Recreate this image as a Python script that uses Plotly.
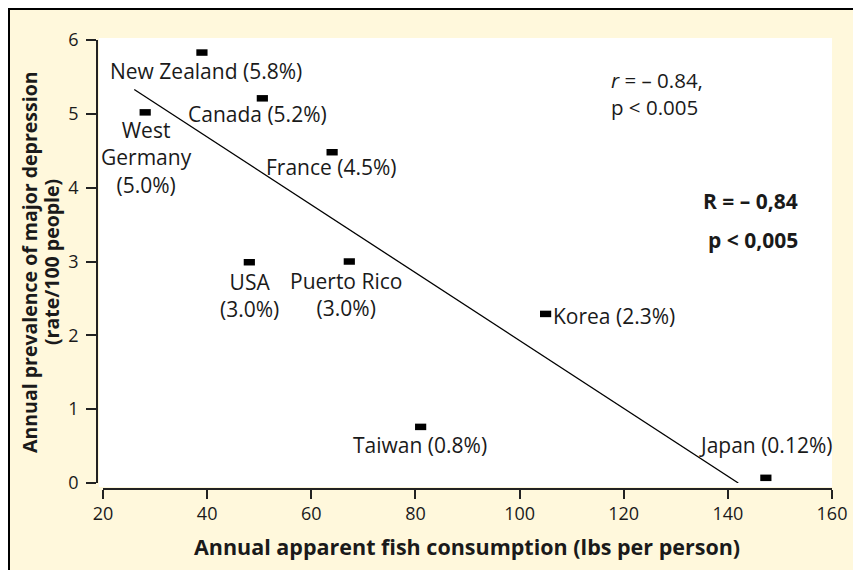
import plotly.graph_objects as go

# ---- data ----
countries = ["New Zealand", "Canada", "West Germany", "France", "USA",
             "Puerto Rico", "Korea", "Taiwan", "Japan"]
fish = [39.0, 50.6, 28.1, 64.0, 48.1, 67.3, 105.0, 81.0, 147.3]
depression = [5.83, 5.21, 5.02, 4.48, 2.99, 3.0, 2.29, 0.76, 0.07]
labels = ["New Zealand (5.8%)", "Canada (5.2%)", "West<br>Germany<br>(5.0%)",
          "France (4.5%)", "USA<br>(3.0%)", "Puerto Rico<br>(3.0%)",
          "Korea (2.3%)", "Taiwan (0.8%)", "Japan (0.12%)"]
fit_x = [26.0, 142.0]
fit_y = [5.33, 0.0]
x_ticks = [20, 40, 60, 80, 100, 120, 140, 160]
y_ticks = [0, 1, 2, 3, 4, 5, 6]

# ---- layout geometry (pixels); page body adds an 8px offset ----
OFF = 8
W, H = 861 - OFF, 570 - OFF
L, R, T, B = 89, 29, 32, 81
PW, PH = W - L - R, H - T - B


def px(xr):
    """reference-window x pixel -> paper fraction"""
    return (xr - OFF - L) / PW


def py(yr):
    """reference-window y pixel -> paper fraction"""
    return (H - B - (yr - OFF)) / PH


FONT = "Open Sans"
TXT = "#1a1a1a"
LBL = 21

# label offsets relative to each point (dx, dy in px, anchor)
label_pos = {
    "New Zealand": (4, -18, "center"),
    "Canada": (-5, -16, "center"),
    "West Germany": (1, -45, "center"),
    "France": (-1, -15, "center"),
    "USA": (0, -33, "center"),
    "Puerto Rico": (-3, -33, "center"),
    "Korea": (5, -2, "left"),
    "Taiwan": (-1, -18, "center"),
    "Japan": (0, 33, "center"),
}

fig = go.Figure()
fig.add_trace(go.Scatter(x=fit_x, y=fit_y, mode="lines",
                         line=dict(color="black", width=1.3),
                         hoverinfo="skip", showlegend=False))
fig.add_trace(go.Scatter(x=fish, y=depression, mode="markers",
                         marker=dict(symbol="line-ew", size=8,
                                     line=dict(color="black", width=6.5)),
                         text=countries, showlegend=False))

annotations = []
for c, xv, yv, lab in zip(countries, fish, depression, labels):
    dx, dy, anc = label_pos[c]
    annotations.append(dict(x=xv, y=yv, xref="x", yref="y", text=lab,
                            showarrow=False, xanchor=anc, yanchor="middle",
                            xshift=dx, yshift=dy, align="center",
                            font=dict(family=FONT, size=LBL, color=TXT)))


def note(x, y, text, size, anchor="left", angle=0, align="center"):
    return dict(x=px(x), y=py(y), xref="paper", yref="paper", text=text,
                showarrow=False, xanchor=anchor, yanchor="middle",
                textangle=angle, align=align,
                font=dict(family=FONT, size=size, color=TXT))


annotations += [
    note(609, 93, "<i>r</i> = – 0.84,<br>p < 0.005", 20.5, align="left"),
    note(800, 201, "<b>R = – 0,84</b>", 21, "right"),
    note(800, 240, "<b>p < 0,005</b>", 21, "right"),
    note(467, 546, "<b>Annual apparent fish consumption (lbs per person)</b>",
         21.5, "center"),
    note(29, 262, "<b>Annual prevalence of major depression</b>", 19.5,
         "center", -90),
    note(51, 262, "<b>(rate/100 people)</b>", 19.5, "center", -90),
]

shapes = [
    # white plotting panel
    dict(type="rect", xref="paper", yref="paper", layer="below",
         x0=px(99), x1=px(832), y0=py(487), y1=py(38),
         fillcolor="white", line=dict(width=0)),
    # frame (top + left visible)
    dict(type="rect", xref="paper", yref="paper", layer="above",
         x0=px(OFF + 1), x1=px(900), y0=py(620), y1=py(OFF + 1),
         fillcolor="rgba(0,0,0,0)", line=dict(color="black", width=2)),
]

fig.update_layout(
    width=W, height=H,
    margin=dict(l=L, r=R, t=T, b=B, pad=0),
    paper_bgcolor="#FFF8DC", plot_bgcolor="white",
    font=dict(family=FONT, color=TXT),
    annotations=annotations, shapes=shapes,
    xaxis=dict(range=[20, 160], domain=[px(103), 1], anchor="free",
               position=0, showline=True, linecolor="#222", linewidth=1.5,
               ticks="outside", ticklen=9, tickwidth=1.5, tickcolor="#222",
               tickvals=x_ticks, ticktext=[str(v) for v in x_ticks],
               showgrid=False, zeroline=False,
               tickfont=dict(family=FONT, size=18, color=TXT)),
    yaxis=dict(range=[0, 6], domain=[py(483), 1], anchor="free",
               position=0, showline=True, linecolor="#222", linewidth=1.5,
               ticks="outside", ticklen=10, tickwidth=1.5, tickcolor="#222",
               tickvals=y_ticks, ticktext=[str(v) for v in y_ticks],
               showgrid=False, zeroline=False, ticklabelstandoff=4,
               tickfont=dict(family=FONT, size=18, color=TXT)),
)

fig.write_html("out.html")
